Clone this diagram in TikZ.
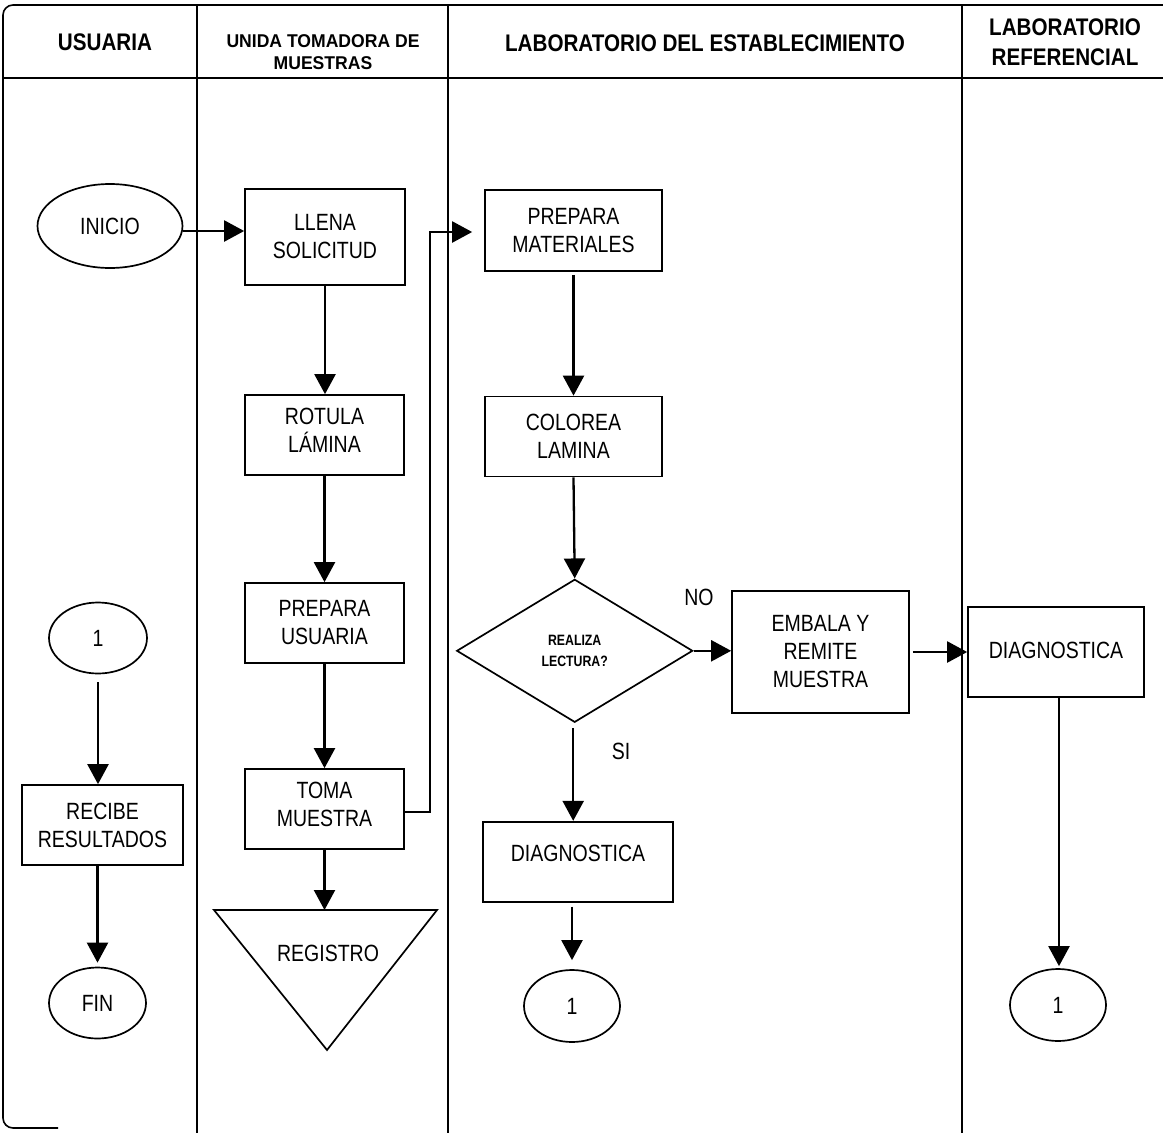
\documentclass[tikz,border=0pt]{standalone}
\usepackage{fontspec}
\setmainfont[FakeStretch=0.83]{Liberation Sans}
\newfontfamily\hdrfont[FakeStretch=0.86]{Liberation Sans}
\newfontfamily\hdrwide[FakeStretch=0.95]{Liberation Sans}
\newfontfamily\decfont[FakeStretch=0.82]{Liberation Sans}
\usetikzlibrary{arrows.meta,shapes.geometric}
\begin{document}
\begin{tikzpicture}[x=1pt,y=-1pt,
  lane/.style={line width=1.5pt},
  txt/.style={font=\fontsize{23.5}{28}\selectfont},
  box/.style={draw,line width=1.7pt,rectangle,inner sep=0pt,align=center,txt},
  oval/.style={draw,line width=1.7pt,ellipse,inner sep=0pt,txt},
  arr/.style={line width=2.3pt,-{Triangle[length=20pt,width=21pt]}},
  hdr/.style={font=\hdrfont\bfseries\fontsize{24}{30}\selectfont,align=center},
  raised/.style={text height=45pt,text depth=11pt}]

\useasboundingbox (0,0) rectangle (1163,1133);

% frame and lanes
\draw[line width=1.6pt,rounded corners=10pt] (58,1128) -- (3,1128) -- (3,5) -- (1163,5);
\draw[lane] (3,78) -- (1163,78);
\draw[lane] (197,5) -- (197,1133);
\draw[lane] (448,5) -- (448,1133);
\draw[lane] (962,5) -- (962,1133);

% headers
\node[hdr] (hU) at (105,42) {USUARIA};
\node[font=\hdrwide\bfseries\fontsize{18.5}{22.5}\selectfont,align=center] (hT) at (323,52) {UNIDA TOMADORA DE\\MUESTRAS};
\node[hdr] (hL) at (705,43) {LABORATORIO DEL ESTABLECIMIENTO};
\node[hdr] (hR) at (1065,42) {LABORATORIO\\REFERENCIAL};

% USUARIA lane
\node[oval,minimum width=145pt,minimum height=84pt] (inicio) at (110,226) {INICIO};
\node[oval,minimum width=98pt,minimum height=71pt] (one1) at (98,638) {1};
\node[box,minimum width=161pt,minimum height=80pt] (recibe) at (102.5,825) {RECIBE\\RESULTADOS};
\node[oval,minimum width=97pt,minimum height=71pt] (fin) at (97.5,1003) {FIN};

% UNIDA lane
\node[box,minimum width=160pt,minimum height=96pt] (llena) at (325,237) {LLENA\\SOLICITUD};
\node[box,raised,minimum width=159pt,minimum height=80pt] (rotula) at (324.5,435) {ROTULA\\LÁMINA};
\node[box,minimum width=159pt,minimum height=80pt] (prepU) at (324.5,623) {PREPARA\\USUARIA};
\node[box,raised,minimum width=159pt,minimum height=80pt] (toma) at (324.5,809) {TOMA\\MUESTRA};
\draw[line width=1.7pt] (214,910) -- (437,910) -- (327,1050) -- cycle;
\coordinate (regtop) at (323.5,910);
\node[txt] (registro) at (328,953) {REGISTRO};

% LABORATORIO DEL ESTABLECIMIENTO lane
\node[box,minimum width=177pt,minimum height=81pt] (prepM) at (573.5,230.5) {PREPARA\\MATERIALES};
\node[box,minimum width=177pt,minimum height=80pt] (colorea) at (573.5,436.5) {COLOREA\\LAMINA};
\node[draw,diamond,line width=1.7pt,inner sep=0pt,shape aspect=1.65,minimum width=236pt,minimum height=143pt,align=center,font=\decfont\bfseries\fontsize{15}{21}\selectfont] (dec) at (574.7,650.8) {REALIZA\\LECTURA?};
\node[box,minimum width=177pt,minimum height=122pt] (embala) at (820.5,652) {EMBALA Y\\REMITE\\MUESTRA};
\node[box,minimum width=190pt,minimum height=80pt,text height=17pt,text depth=17pt] (diag1) at (578,861.7) {DIAGNOSTICA};
\node[oval,minimum width=96pt,minimum height=72pt] (one2) at (572,1006) {1};
\node[txt] (no) at (699,597) {NO};
\node[txt] (si) at (621,751) {SI};

% LABORATORIO REFERENCIAL lane
\node[box,minimum width=176pt,minimum height=90pt,text height=17pt,text depth=5pt] (diag2) at (1056,652) {DIAGNOSTICA};
\node[oval,minimum width=96pt,minimum height=72pt] (one3) at (1058,1005) {1};

% connectors
\draw[arr] ([yshift=-5pt]inicio.east) -- ([yshift=-5pt]inicio.east -| llena.west);
\draw[arr] (llena.south) -- (llena.south |- rotula.north);
\draw[arr] (rotula.south) -- (prepU.north);
\draw[arr] (prepU.south) -- (toma.north);
\draw[arr] (toma.south) -- (toma.south |- regtop);
\draw[arr,shorten >=12pt] ([yshift=-3pt]toma.east) -- ++(25,0) |- ([yshift=-1.5pt]prepM.west);
\draw[arr,shorten <=3pt] (prepM.south) -- (colorea.north);
\draw[arr] (colorea.south) -- (dec.north);
\draw[arr] (dec.east) -- (dec.east -| embala.west);
\draw[arr,shorten <=5pt] ([xshift=-1.5pt]dec.south) -- ([xshift=-1.5pt]dec.south |- diag1.north);
\draw[arr,shorten <=4pt,shorten >=9pt] (one2.north |- diag1.south) -- (one2.north);
\draw[arr,shorten <=3pt] (embala.east) -- (embala.east -| diag2.west);
\draw[arr,shorten >=2pt] ([xshift=3pt]diag2.south) -- ([xshift=3pt]diag2.south |- one3.north);
\draw[arr,shorten <=8pt] (one1.south) -- (one1.south |- recibe.north);
\draw[arr,shorten >=4pt] (fin.north |- recibe.south) -- (fin.north);
\end{tikzpicture}
\end{document}
